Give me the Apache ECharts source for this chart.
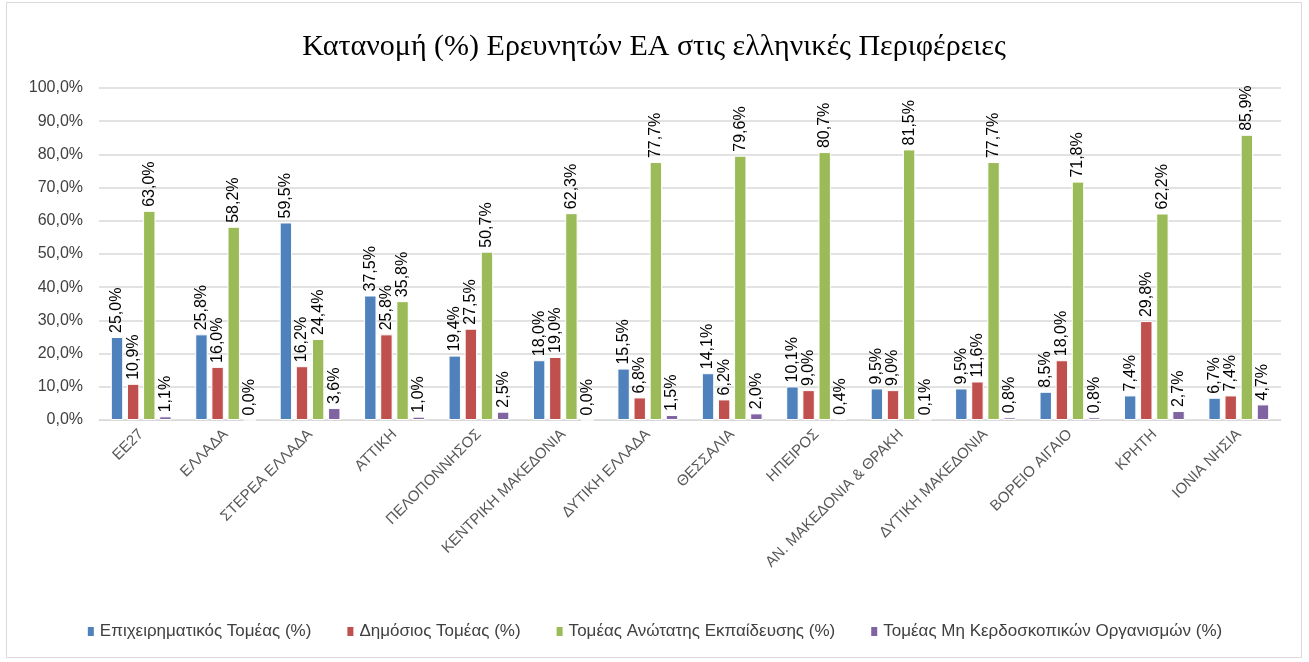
<!DOCTYPE html>
<html lang="el">
<head>
<meta charset="utf-8">
<title>Κατανομή Ερευνητών ΕΑ</title>
<script src="https://cdn.jsdelivr.net/npm/echarts@6/dist/echarts.min.js"></script>
</head>
<body style="margin:0; background:#fff;">
<div id="chart" style="position:absolute; left:6px; top:2px; width:1296px; height:656px; border:1px solid #d9d9d9; box-sizing:border-box;"></div>
<script>
const regions = ['ΕΕ27', 'ΕΛΛΑΔΑ', 'ΣΤΕΡΕΑ ΕΛΛΑΔΑ', 'ΑΤΤΙΚΗ', 'ΠΕΛΟΠΟΝΝΗΣΟΣ', 'ΚΕΝΤΡΙΚΗ ΜΑΚΕΔΟΝΙΑ',
  'ΔΥΤΙΚΗ ΕΛΛΑΔΑ', 'ΘΕΣΣΑΛΙΑ', 'ΗΠΕΙΡΟΣ', 'ΑΝ. ΜΑΚΕΔΟΝΙΑ & ΘΡΑΚΗ', 'ΔΥΤΙΚΗ ΜΑΚΕΔΟΝΙΑ',
  'ΒΟΡΕΙΟ ΑΙΓΑΙΟ', 'ΚΡΗΤΗ', 'ΙΟΝΙΑ ΝΗΣΙΑ'];
const business = [25.0, 25.8, 59.5, 37.5, 19.4, 18.0, 15.5, 14.1, 10.1, 9.5, 9.5, 8.5, 7.4, 6.7];
const government = [10.9, 16.0, 16.2, 25.8, 27.5, 19.0, 6.8, 6.2, 9.0, 9.0, 11.6, 18.0, 29.8, 7.4];
const higherEd = [63.0, 58.2, 24.4, 35.8, 50.7, 62.3, 77.7, 79.6, 80.7, 81.5, 77.7, 71.8, 62.2, 85.9];
const nonProfit = [1.1, 0.0, 3.6, 1.0, 2.5, 0.0, 1.5, 2.0, 0.4, 0.1, 0.8, 0.8, 2.7, 4.7];
const seriesNames = ['Επιχειρηματικός Τομέας (%)', 'Δημόσιος Τομέας (%)',
  'Τομέας Ανώτατης Εκπαίδευσης (%)', 'Τομέας Μη Κερδοσκοπικών Οργανισμών (%)'];
const colors = ['#4f81bd', '#c0504d', '#9bbb59', '#8064a2'];

const fmt = v => v.toFixed(1).replace('.', ',') + '%';
const font = '"Liberation Sans", Arial, sans-serif';

const chart = echarts.init(document.getElementById('chart'));

function makeSeries(name, data) {
  return {
    name: name,
    type: 'bar',
    data: data,
    barGap: '30%',
    barCategoryGap: '28%',
    itemStyle: { borderColor: '#ffffff', borderWidth: 1 },
    label: {
      show: true,
      position: 'top',
      rotate: 90,
      align: 'left',
      verticalAlign: 'middle',
      distance: 4,
      color: '#000',
      fontSize: 16,
      fontFamily: font,
      formatter: p => fmt(p.value)
    }
  };
}

chart.setOption({
  animation: false,
  color: colors,
  title: {
    text: 'Κατανομή (%) Ερευνητών ΕΑ στις ελληνικές Περιφέρειες',
    left: 'center',
    top: 24,
    textStyle: { fontFamily: '"Liberation Serif", "Times New Roman", serif', fontSize: 30, fontWeight: 'normal', color: '#000' }
  },
  legend: {
    bottom: 12,
    left: 'center',
    itemWidth: 8,
    itemHeight: 11,
    itemGap: 34,
    icon: 'rect',
    textStyle: { fontFamily: font, fontSize: 17, color: '#404040' },
    data: seriesNames
  },
  grid: { left: 92, right: 20, top: 85, bottom: 237, containLabel: false },
  xAxis: {
    type: 'category',
    data: regions,
    axisLine: { lineStyle: { color: '#d9d9d9', width: 1 } },
    axisTick: { show: false },
    axisLabel: { rotate: 45, color: '#595959', fontFamily: font, fontSize: 15, interval: 0, margin: 12 }
  },
  yAxis: {
    type: 'value',
    min: 0,
    max: 100,
    interval: 10,
    axisLine: { show: false },
    axisTick: { show: false },
    splitLine: { lineStyle: { color: '#d9d9d9', width: 1.5 } },
    axisLabel: { color: '#404040', fontFamily: font, fontSize: 16, margin: 16, formatter: v => fmt(v) }
  },
  series: [
    makeSeries(seriesNames[0], business),
    makeSeries(seriesNames[1], government),
    makeSeries(seriesNames[2], higherEd),
    makeSeries(seriesNames[3], nonProfit)
  ]
});
</script>
</body>
</html>
